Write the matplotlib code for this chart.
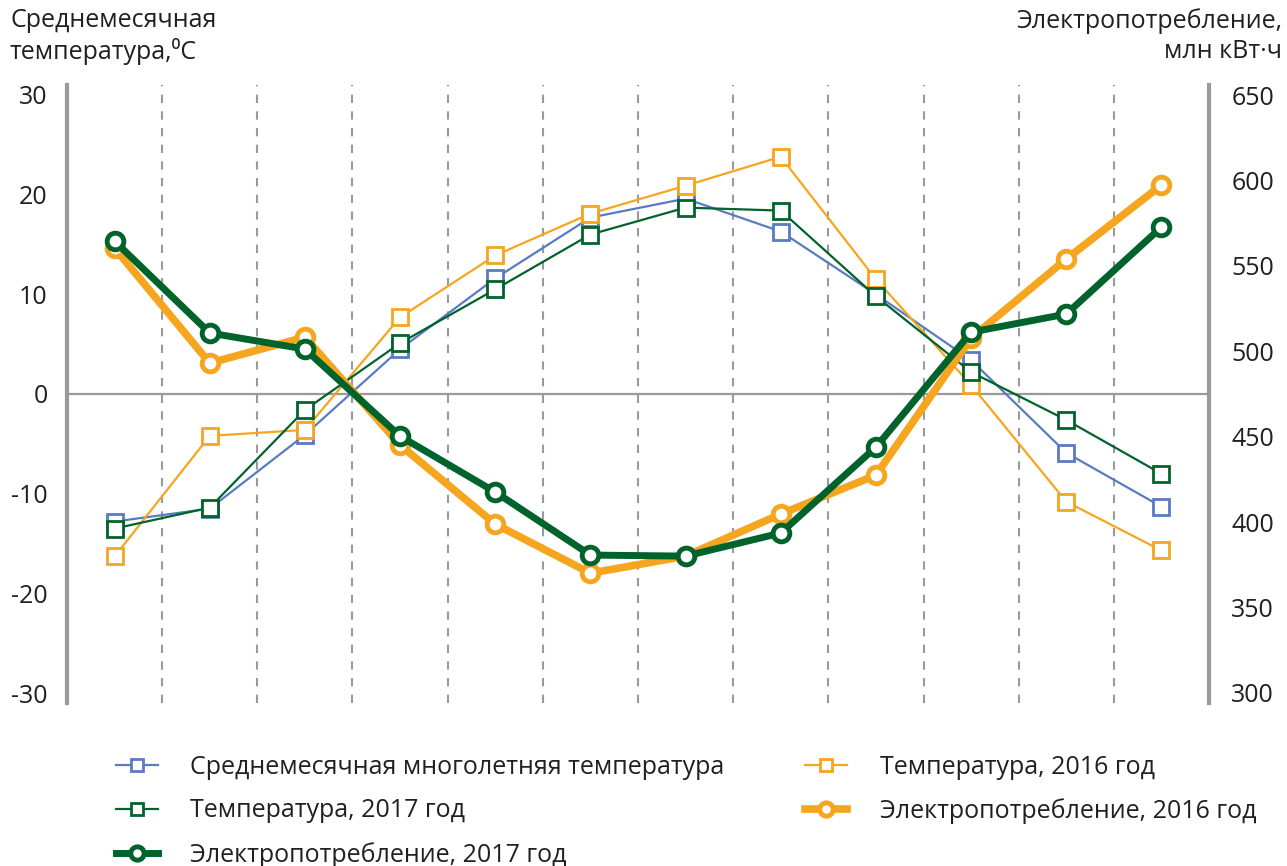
import matplotlib.pyplot as plt
import numpy as np

plt.rcParams['font.family'] = ['Open Sans', 'DejaVu Sans']
plt.rcParams['axes.unicode_minus'] = False

months = np.arange(12)

# temperature, deg C (left axis)
temp_norm = [-12.8, -11.5, -4.1, 4.5, 11.6, 17.7, 19.6, 16.3, 10.0, 3.4, -5.9, -11.3]
temp_2016 = [-16.3, -4.2, -3.6, 7.7, 13.9, 18.1, 20.9, 23.8, 11.5, 0.9, -10.8, -15.7]
temp_2017 = [-13.5, -11.4, -1.6, 5.1, 10.5, 16.0, 18.7, 18.4, 9.8, 2.2, -2.6, -8.0]

# power consumption, mln kWh (right axis)
elec_2016 = [560.4, 493.1, 508.3, 445.1, 398.8, 370.1, 380.1, 404.7, 427.5, 507.7, 554.0, 597.3]
elec_2017 = [564.5, 510.7, 501.3, 450.3, 417.6, 380.7, 380.1, 393.6, 443.9, 511.2, 521.8, 572.7]

labels = ['Среднемесячная многолетняя температура', 'Температура, 2016 год',
          'Температура, 2017 год', 'Электропотребление, 2016 год',
          'Электропотребление, 2017 год']

blue = '#5a7bc2'
orange = '#f6a51f'
green = '#00632c'
grey = '#9a9a9a'
txt = '#231f20'
fs = 18

fig = plt.figure(figsize=(12.87, 8.66), dpi=100)
ax = fig.add_axes([67 / 1287, 163 / 866, 1142 / 1287, 618 / 866])
ax2 = ax.twinx()

ax.set_xlim(-0.5, 11.5)
ax.set_ylim(-31, 31)
ax2.set_ylim(294.1, 655.9)

for x in np.arange(0.5, 11, 1):
    ax.axvline(x, color=grey, lw=1.5, ls=(0, (4, 4)), zorder=0)
ax.axhline(0, color=grey, lw=1.6, zorder=1)

sq = dict(marker='s', markersize=11, markerfacecolor='white', markeredgewidth=2, lw=1.6)
l1, = ax.plot(months, temp_norm, color=blue, **sq)
l2, = ax.plot(months, temp_2016, color=orange, **sq)
l3, = ax.plot(months, temp_2017, color=green, **sq)

l4, = ax2.plot(months, elec_2016, color=orange, lw=5.5, marker='o', markersize=12,
               markerfacecolor='white', markeredgewidth=3.5)
l5, = ax2.plot(months, elec_2017, color=green, lw=5, marker='o', markersize=12,
               markerfacecolor='white', markeredgewidth=3.5)

for a in (ax, ax2):
    a.set_xticks([])
    for s in a.spines.values():
        s.set_visible(False)
ax.spines['left'].set_visible(True)
ax.spines['left'].set_color(grey)
ax.spines['left'].set_linewidth(3)
ax2.spines['right'].set_visible(True)
ax2.spines['right'].set_color(grey)
ax2.spines['right'].set_linewidth(3)

ax.set_yticks(np.arange(-30, 31, 10))
ax.tick_params(axis='y', length=0, pad=14, labelsize=fs, labelcolor=txt)
ax2.set_yticks(np.arange(300, 651, 50))
ax2.tick_params(axis='y', length=0, pad=16, labelsize=fs, labelcolor=txt)

fig.text(10 / 1287, 1 - 8 / 866, 'Среднемесячная\nтемпература,\u2070C', ha='left', va='top',
         fontsize=fs, color=txt, linespacing=1.25)
fig.text(1282 / 1287, 1 - 8 / 866, 'Электропотребление,\nмлн кВт·ч', ha='right', va='top',
         fontsize=fs, color=txt, linespacing=1.25, multialignment='right')

handles = [l1, l3, l5, l2, l4]
hl = [labels[0], labels[2], labels[4], labels[1], labels[3]]
fig.legend(handles, hl, ncol=2, loc='upper left', bbox_to_anchor=(93 / 1287, 1 - 732 / 866),
           frameon=False, fontsize=fs, labelcolor=txt, handlelength=1.7, handletextpad=1.3,
           columnspacing=3.2, labelspacing=0.75, markerscale=0.8)

fig.savefig('out.png', dpi=100)
